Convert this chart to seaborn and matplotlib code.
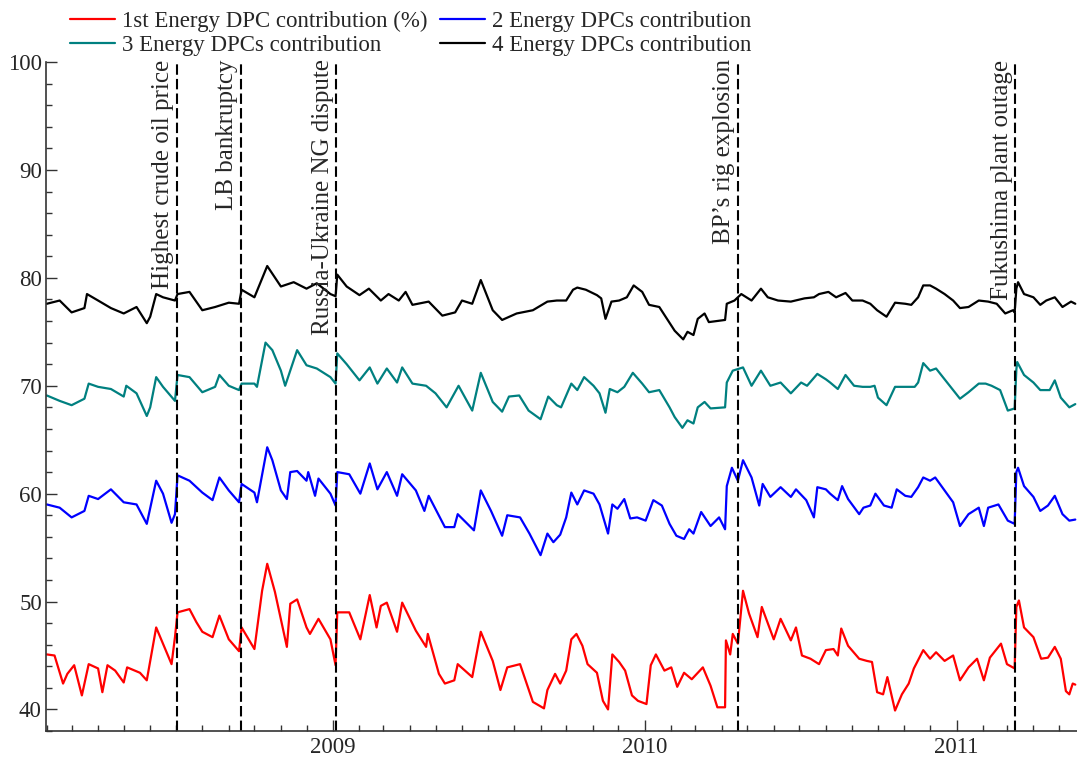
import matplotlib
matplotlib.use("Agg")
import matplotlib.pyplot as plt
import matplotlib.dates as mdates
import seaborn as sns
import pandas as pd

# -------------------------------
# DATA
# -------------------------------

red_dates = [
    "2008-02-01", "2008-02-10", "2008-02-20", "2008-02-25", "2008-03-04", "2008-03-13", "2008-03-21",
    "2008-04-01", "2008-04-06", "2008-04-12", "2008-04-21", "2008-05-01", "2008-05-05", "2008-05-20",
    "2008-05-28", "2008-06-08", "2008-06-16", "2008-06-26", "2008-06-30", "2008-07-03", "2008-07-17",
    "2008-07-25", "2008-08-01", "2008-08-13", "2008-08-21", "2008-09-01", "2008-09-13", "2008-09-16",
    "2008-10-01", "2008-10-10", "2008-10-16", "2008-10-25", "2008-11-08", "2008-11-12", "2008-11-20",
    "2008-12-01", "2008-12-05", "2008-12-15", "2008-12-29", "2009-01-04", "2009-01-06", "2009-01-20",
    "2009-02-02", "2009-02-13", "2009-02-21", "2009-02-26", "2009-03-05", "2009-03-17", "2009-03-23",
    "2009-04-08", "2009-04-20", "2009-04-22", "2009-05-05", "2009-05-12", "2009-05-23", "2009-05-27",
    "2009-06-13", "2009-06-23", "2009-07-07", "2009-07-16", "2009-07-24", "2009-08-08", "2009-08-23",
    "2009-09-05", "2009-09-09", "2009-09-18", "2009-09-24", "2009-10-01", "2009-10-07", "2009-10-13",
    "2009-10-20", "2009-10-26", "2009-11-06", "2009-11-13", "2009-11-19", "2009-11-24", "2009-12-02",
    "2009-12-09", "2009-12-17", "2009-12-24", "2010-01-03", "2010-01-08", "2010-01-14", "2010-01-24",
    "2010-02-01", "2010-02-08", "2010-02-16", "2010-02-25", "2010-03-10", "2010-03-19", "2010-03-27",
    "2010-04-05", "2010-04-06", "2010-04-11", "2010-04-14", "2010-04-20", "2010-04-26", "2010-05-03",
    "2010-05-13", "2010-05-18", "2010-06-01", "2010-06-09", "2010-06-21", "2010-06-27", "2010-07-04",
    "2010-07-14", "2010-07-24", "2010-08-01", "2010-08-10", "2010-08-15", "2010-08-19", "2010-08-27",
    "2010-09-09", "2010-09-18", "2010-09-24", "2010-09-30", "2010-10-07", "2010-10-12", "2010-10-21",
    "2010-10-29", "2010-11-06", "2010-11-12", "2010-11-23", "2010-12-01", "2010-12-08", "2010-12-18",
    "2010-12-28", "2011-01-05", "2011-01-15", "2011-01-25", "2011-02-02", "2011-02-09", "2011-02-22",
    "2011-03-01", "2011-03-10", "2011-03-12", "2011-03-15", "2011-03-21", "2011-04-01", "2011-04-10",
    "2011-04-18", "2011-04-26", "2011-05-03", "2011-05-09", "2011-05-13", "2011-05-17", "2011-05-20",
]
red_vals = [
    45.1, 45.0, 42.4, 43.3, 44.1, 41.3, 44.2,
    43.8, 41.6, 44.1, 43.6, 42.5, 43.9, 43.4,
    42.7, 47.6, 46.1, 44.2, 46.7, 49.0, 49.3,
    48.1, 47.2, 46.7, 48.7, 46.5, 45.4, 47.6,
    45.6, 51.0, 53.5, 50.9, 45.8, 49.8, 50.2,
    47.6, 47.0, 48.4, 46.5, 44.1, 49.0, 49.0,
    46.5, 50.6, 47.6, 49.6, 49.9, 47.2, 49.9,
    47.3, 45.8, 47.0, 43.3, 42.4, 42.7, 44.2,
    43.0, 47.2, 44.5, 41.8, 43.9, 44.2, 40.7,
    40.1, 41.8, 43.3, 42.4, 43.6, 46.5, 47.0,
    45.9, 44.2, 43.4, 40.8, 40.0, 45.1, 44.4,
    43.6, 41.3, 40.8, 40.5, 44.1, 45.1, 43.6,
    43.9, 42.1, 43.4, 42.8, 43.9, 42.2, 40.2,
    40.2, 46.4, 45.1, 47.0, 46.1, 51.0, 48.9,
    46.7, 49.5, 46.5, 48.4, 46.4, 47.6, 45.0,
    44.7, 44.2, 45.5, 45.6, 45.0, 47.5, 45.9,
    44.7, 44.5, 44.4, 41.6, 41.4, 43.0, 39.9,
    41.4, 42.4, 43.8, 45.5, 44.7, 45.3, 44.5,
    45.0, 42.7, 43.9, 44.7, 42.7, 44.8, 46.1,
    44.2, 43.8, 49.5, 50.1, 47.6, 46.7, 44.7,
    44.8, 45.8, 44.7, 41.7, 41.4, 42.4, 42.3,
]

blue_dates = [
    "2008-02-01", "2008-02-16", "2008-03-01", "2008-03-16", "2008-03-21", "2008-04-01", "2008-04-16",
    "2008-05-01", "2008-05-16", "2008-05-28", "2008-06-08", "2008-06-16", "2008-06-26", "2008-06-30",
    "2008-07-03", "2008-07-17", "2008-08-01", "2008-08-13", "2008-08-21", "2008-09-01", "2008-09-13",
    "2008-09-16", "2008-10-01", "2008-10-04", "2008-10-16", "2008-10-22", "2008-11-01", "2008-11-08",
    "2008-11-12", "2008-11-20", "2008-12-01", "2008-12-03", "2008-12-11", "2008-12-15", "2008-12-29",
    "2009-01-04", "2009-01-06", "2009-01-20", "2009-02-02", "2009-02-13", "2009-02-22", "2009-03-05",
    "2009-03-17", "2009-03-23", "2009-04-08", "2009-04-18", "2009-04-23", "2009-05-12", "2009-05-23",
    "2009-05-27", "2009-06-15", "2009-06-23", "2009-07-05", "2009-07-18", "2009-07-24", "2009-08-08",
    "2009-08-19", "2009-09-01", "2009-09-09", "2009-09-16", "2009-09-24", "2009-10-01", "2009-10-07",
    "2009-10-14", "2009-10-22", "2009-11-02", "2009-11-09", "2009-11-19", "2009-11-24", "2009-11-30",
    "2009-12-08", "2009-12-15", "2009-12-23", "2010-01-02", "2010-01-11", "2010-01-21", "2010-01-30",
    "2010-02-07", "2010-02-16", "2010-02-22", "2010-02-27", "2010-03-08", "2010-03-19", "2010-03-29",
    "2010-04-05", "2010-04-07", "2010-04-13", "2010-04-20", "2010-04-26", "2010-05-06", "2010-05-15",
    "2010-05-19", "2010-05-28", "2010-06-09", "2010-06-21", "2010-06-27", "2010-07-09", "2010-07-18",
    "2010-07-22", "2010-08-01", "2010-08-06", "2010-08-15", "2010-08-20", "2010-08-27", "2010-09-09",
    "2010-09-14", "2010-09-22", "2010-09-28", "2010-10-08", "2010-10-17", "2010-10-23", "2010-11-02",
    "2010-11-09", "2010-11-17", "2010-11-23", "2010-12-01", "2010-12-07", "2010-12-18", "2010-12-28",
    "2011-01-05", "2011-01-15", "2011-01-27", "2011-02-02", "2011-02-07", "2011-02-19", "2011-03-02",
    "2011-03-10", "2011-03-12", "2011-03-14", "2011-03-21", "2011-04-01", "2011-04-09", "2011-04-18",
    "2011-04-26", "2011-05-05", "2011-05-13", "2011-05-20",
]
blue_vals = [
    59.0, 58.7, 57.8, 58.4, 59.8, 59.5, 60.4,
    59.2, 59.0, 57.2, 61.2, 60.0, 57.3, 58.1,
    61.7, 61.2, 60.1, 59.4, 61.5, 60.3, 59.2,
    60.9, 60.1, 59.2, 64.3, 63.1, 60.3, 59.5,
    62.0, 62.1, 61.2, 62.0, 59.8, 61.4, 60.0,
    58.9, 62.0, 61.8, 60.0, 62.8, 60.4, 62.0,
    59.8, 61.8, 60.3, 58.4, 59.8, 56.9, 56.9,
    58.1, 56.6, 60.3, 58.4, 56.1, 58.0, 57.8,
    56.3, 54.3, 56.3, 55.5, 56.2, 57.8, 60.1,
    59.0, 60.3, 60.0, 59.0, 56.3, 59.0, 58.6,
    59.5, 57.7, 57.8, 57.5, 59.4, 58.9, 57.2,
    56.1, 55.8, 56.7, 56.3, 58.3, 57.0, 57.8,
    56.7, 60.7, 62.4, 61.2, 63.1, 61.5, 58.9,
    60.9, 59.7, 60.6, 59.7, 60.4, 59.4, 57.8,
    60.6, 60.4, 60.0, 59.4, 60.7, 59.5, 58.1,
    58.7, 58.9, 60.0, 58.9, 58.7, 60.4, 59.8,
    59.7, 60.6, 61.5, 61.2, 61.5, 60.3, 59.2,
    57.0, 58.1, 58.7, 57.0, 58.7, 59.0, 57.5,
    57.2, 62.0, 62.4, 60.7, 59.7, 58.4, 58.9,
    59.8, 58.1, 57.5, 57.6,
]

teal_dates = [
    "2008-02-01", "2008-02-16", "2008-03-01", "2008-03-16", "2008-03-21", "2008-04-01", "2008-04-16",
    "2008-05-01", "2008-05-04", "2008-05-16", "2008-05-28", "2008-06-01", "2008-06-08", "2008-06-16",
    "2008-06-30", "2008-07-03", "2008-07-17", "2008-08-01", "2008-08-16", "2008-08-21", "2008-09-01",
    "2008-09-13", "2008-09-16", "2008-10-01", "2008-10-04", "2008-10-14", "2008-10-22", "2008-11-01",
    "2008-11-06", "2008-11-20", "2008-12-01", "2008-12-13", "2008-12-29", "2009-01-04", "2009-01-06",
    "2009-01-17", "2009-02-01", "2009-02-13", "2009-02-22", "2009-03-05", "2009-03-17", "2009-03-23",
    "2009-04-04", "2009-04-20", "2009-05-01", "2009-05-14", "2009-05-28", "2009-06-13", "2009-06-23",
    "2009-07-07", "2009-07-18", "2009-07-26", "2009-08-07", "2009-08-18", "2009-09-01", "2009-09-10",
    "2009-09-20", "2009-09-25", "2009-10-01", "2009-10-07", "2009-10-14", "2009-10-22", "2009-11-02",
    "2009-11-09", "2009-11-16", "2009-11-21", "2009-11-30", "2009-12-08", "2009-12-18", "2009-12-29",
    "2010-01-06", "2010-01-18", "2010-01-30", "2010-02-05", "2010-02-14", "2010-02-20", "2010-02-27",
    "2010-03-04", "2010-03-12", "2010-03-19", "2010-04-05", "2010-04-07", "2010-04-14", "2010-04-26",
    "2010-05-06", "2010-05-17", "2010-05-28", "2010-06-09", "2010-06-21", "2010-07-03", "2010-07-10",
    "2010-07-22", "2010-08-01", "2010-08-06", "2010-08-15", "2010-08-24", "2010-09-03", "2010-09-13",
    "2010-09-22", "2010-09-27", "2010-10-01", "2010-10-11", "2010-10-21", "2010-11-02", "2010-11-13",
    "2010-11-17", "2010-11-23", "2010-12-01", "2010-12-08", "2010-12-18", "2010-12-28", "2011-01-05",
    "2011-01-15", "2011-01-27", "2011-02-04", "2011-02-11", "2011-02-21", "2011-03-02", "2011-03-10",
    "2011-03-12", "2011-03-13", "2011-03-21", "2011-04-01", "2011-04-09", "2011-04-20", "2011-04-26",
    "2011-05-03", "2011-05-13", "2011-05-20",
]
teal_vals = [
    69.1, 68.6, 68.2, 68.8, 70.2, 69.9, 69.7,
    69.0, 70.0, 69.3, 67.2, 68.0, 70.8, 69.9,
    68.6, 71.0, 70.8, 69.4, 69.9, 71.0, 70.0,
    69.6, 70.2, 70.2, 69.9, 74.0, 73.3, 71.4,
    70.0, 73.3, 71.9, 71.6, 70.8, 70.2, 73.0,
    72.0, 70.5, 71.7, 70.2, 71.6, 70.3, 71.7,
    70.2, 70.0, 69.3, 68.0, 70.0, 67.7, 71.2,
    68.5, 67.6, 69.0, 69.1, 67.7, 66.9, 69.0,
    68.2, 68.0, 69.1, 70.2, 69.6, 70.8, 70.0,
    69.3, 67.5, 69.7, 69.4, 69.9, 71.2, 70.2,
    69.4, 69.6, 68.0, 67.1, 66.1, 66.8, 66.5,
    68.0, 68.5, 67.9, 68.0, 70.3, 71.4, 71.7,
    70.0, 71.4, 70.0, 70.3, 69.3, 70.3, 70.0,
    71.1, 70.6, 70.3, 69.7, 71.0, 70.0, 69.9,
    69.9, 70.0, 68.9, 68.2, 69.9, 69.9, 69.9,
    70.3, 72.1, 71.4, 71.6, 70.6, 69.6, 68.8,
    69.4, 70.2, 70.2, 70.0, 69.6, 67.7, 67.9,
    71.5, 72.2, 71.0, 70.3, 69.6, 69.6, 70.5,
    68.9, 68.0, 68.3,
]

black_dates = [
    "2008-02-01", "2008-02-16", "2008-03-01", "2008-03-16", "2008-03-19", "2008-04-01", "2008-04-16",
    "2008-05-01", "2008-05-16", "2008-05-28", "2008-06-01", "2008-06-08", "2008-06-16", "2008-06-30",
    "2008-07-03", "2008-07-17", "2008-08-01", "2008-08-16", "2008-09-01", "2008-09-13", "2008-09-16",
    "2008-10-01", "2008-10-16", "2008-11-01", "2008-11-16", "2008-12-01", "2008-12-13", "2008-12-29",
    "2009-01-04", "2009-01-06", "2009-01-17", "2009-02-01", "2009-02-12", "2009-02-26", "2009-03-07",
    "2009-03-19", "2009-03-27", "2009-04-04", "2009-04-23", "2009-05-09", "2009-05-24", "2009-06-01",
    "2009-06-13", "2009-06-23", "2009-07-07", "2009-07-18", "2009-08-04", "2009-08-23", "2009-09-09",
    "2009-09-20", "2009-10-01", "2009-10-09", "2009-10-14", "2009-10-24", "2009-11-06", "2009-11-11",
    "2009-11-16", "2009-11-23", "2009-12-02", "2009-12-11", "2009-12-19", "2009-12-29", "2010-01-06",
    "2010-01-18", "2010-01-27", "2010-02-05", "2010-02-15", "2010-02-20", "2010-02-27", "2010-03-04",
    "2010-03-12", "2010-03-17", "2010-04-05", "2010-04-07", "2010-04-16", "2010-04-24", "2010-05-06",
    "2010-05-17", "2010-05-25", "2010-06-06", "2010-06-21", "2010-07-07", "2010-07-18", "2010-07-24",
    "2010-08-04", "2010-08-13", "2010-08-24", "2010-09-01", "2010-09-13", "2010-09-22", "2010-09-30",
    "2010-10-11", "2010-10-21", "2010-11-02", "2010-11-09", "2010-11-17", "2010-11-23", "2010-12-01",
    "2010-12-08", "2010-12-18", "2010-12-28", "2011-01-05", "2011-01-15", "2011-01-27", "2011-02-07",
    "2011-02-17", "2011-02-27", "2011-03-08", "2011-03-10", "2011-03-12", "2011-03-14", "2011-03-21",
    "2011-04-01", "2011-04-09", "2011-04-16", "2011-04-26", "2011-05-05", "2011-05-15", "2011-05-20",
]
black_vals = [
    77.6, 77.9, 76.8, 77.2, 78.5, 77.9, 77.2,
    76.7, 77.3, 75.8, 76.4, 78.5, 78.2, 77.9,
    78.5, 78.7, 77.0, 77.3, 77.7, 77.6, 78.9,
    78.2, 81.1, 79.2, 79.6, 79.0, 79.5, 78.5,
    78.3, 80.3, 79.2, 78.4, 79.0, 77.9, 78.5,
    77.9, 78.7, 77.5, 77.8, 76.5, 76.8, 77.9,
    77.6, 79.8, 77.0, 76.1, 76.7, 77.0, 77.8,
    77.9, 77.9, 78.9, 79.1, 78.9, 78.4, 78.1,
    76.2, 77.8, 77.9, 78.2, 79.3, 78.7, 77.5,
    77.3, 76.2, 75.1, 74.3, 75.0, 74.7, 76.2,
    76.7, 75.9, 76.1, 77.6, 77.9, 78.5, 77.9,
    79.0, 78.2, 77.9, 77.8, 78.1, 78.2, 78.5,
    78.7, 78.2, 78.6, 77.9, 77.9, 77.6, 77.0,
    76.4, 77.7, 77.6, 77.5, 78.2, 79.3, 79.3,
    79.0, 78.5, 77.9, 77.2, 77.3, 77.9, 77.8,
    77.6, 76.7, 77.0, 76.8, 79.0, 79.6, 78.5,
    78.2, 77.5, 77.9, 78.2, 77.3, 77.8, 77.6,
]

series_labels = [
    "1st Energy DPC contribution (%)",
    "2 Energy DPCs contribution",
    "3 Energy DPCs contribution",
    "4 Energy DPCs contribution",
]
series_colors = ["#ff0000", "#0000ff", "#008080", "#000000"]

event_dates = ["2008-07-02", "2008-09-15", "2009-01-05", "2010-04-20", "2011-03-11"]
event_labels = [
    "Highest crude oil price",
    "LB bankruptcy",
    "Russia-Ukraine NG dispute",
    "BP\u2019s rig explosion",
    "Fukushima plant outage",
]

# -------------------------------
# LONG FORM TABLE
# -------------------------------

frames = []
for lab, d, v in zip(series_labels,
                     [red_dates, blue_dates, teal_dates, black_dates],
                     [red_vals, blue_vals, teal_vals, black_vals]):
    frames.append(pd.DataFrame({"Date": pd.to_datetime(d), "Value": v, "Series": lab}))
df = pd.concat(frames, ignore_index=True)

# -------------------------------
# PLOT
# -------------------------------

sns.set_style("ticks")
plt.rcParams["font.family"] = ["Liberation Serif", "DejaVu Serif"]
plt.rcParams["xtick.direction"] = "in"
plt.rcParams["ytick.direction"] = "in"

fig = plt.figure(figsize=(10.77, 7.57), dpi=100)
ax = fig.add_axes([0.0427, 0.0343, 0.9573, 0.8837])

sns.lineplot(data=df, x="Date", y="Value", hue="Series", hue_order=series_labels,
             palette=series_colors, linewidth=1.6, ax=ax, estimator=None, sort=False)

for d, lab in zip(event_dates, event_labels):
    dt = pd.Timestamp(d)
    ax.axvline(dt, color="black", linewidth=1.5, linestyle=(0, (5, 2)))
    ax.text(dt - pd.Timedelta(days=3), 100.25, lab, rotation=90, ha="right", va="top",
            fontsize=18)

ax.set_xlim(pd.Timestamp("2008-01-31"), pd.Timestamp("2011-05-22"))
ax.set_ylim(38, 100)
ax.set_yticks([40, 50, 60, 70, 80, 90, 100])
ax.yaxis.set_minor_locator(plt.MultipleLocator(2))
ax.xaxis.set_major_locator(mdates.YearLocator())
ax.xaxis.set_major_formatter(mdates.DateFormatter("%Y"))
ax.xaxis.set_minor_locator(mdates.MonthLocator())
ax.tick_params(axis="both", which="major", labelsize=16.5, length=8, width=1, color="#333333")
ax.tick_params(axis="y", which="major", pad=3)
ax.tick_params(axis="x", which="major", pad=4)
ax.tick_params(axis="both", which="minor", length=4, width=1, color="#333333")
ax.set_xlabel("")
ax.set_ylabel("")

sns.despine(ax=ax)
for s in ["left", "bottom"]:
    ax.spines[s].set_color("#333333")
    ax.spines[s].set_linewidth(1.2)

handles, labels = ax.get_legend_handles_labels()
ax.get_legend().remove()
order = [0, 2, 1, 3]
fig.legend([handles[i] for i in order], [labels[i] for i in order], ncol=2,
           loc="upper left", bbox_to_anchor=(0.061, 0.992), frameon=False, fontsize=16.5,
           handlelength=1.95, handletextpad=0.3, columnspacing=0.55, labelspacing=0.13,
           borderpad=0.2, borderaxespad=0)

fig.savefig("out.png", dpi=100)
plt.close()
